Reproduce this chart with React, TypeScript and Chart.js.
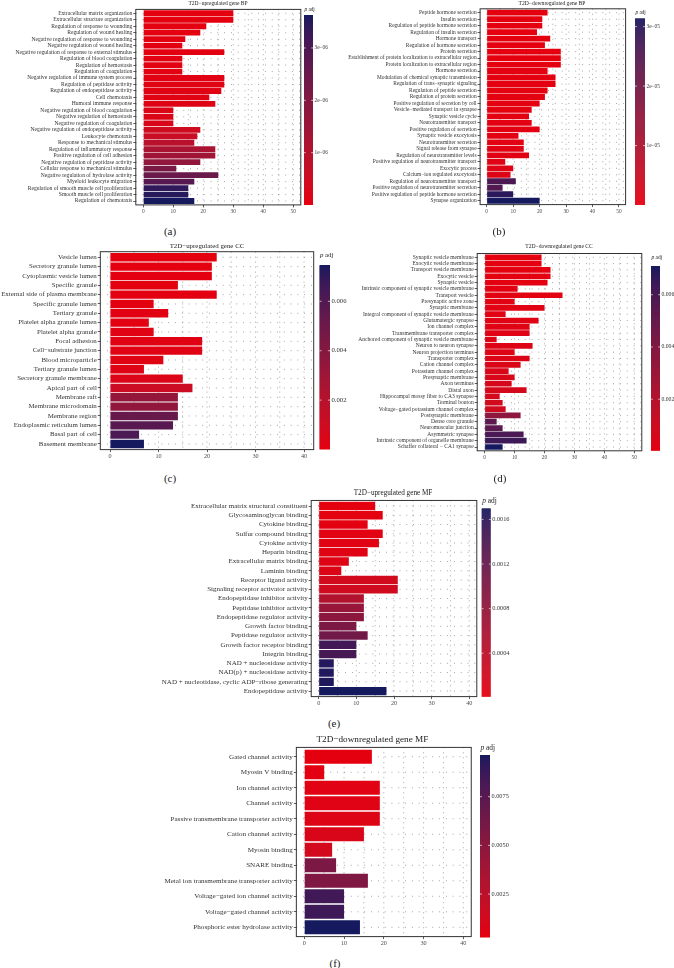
import React, { useEffect, useRef } from "react";
import { Chart, registerables } from "chart.js";
Chart.register(...registerables);

const SERIF = "'Liberation Serif', 'Times New Roman', serif";

// ---------------- (a) T2D-upregulated gene BP ----------------
const aTitle = "T2D\u2212upregulated gene BP";
const aTerms = [
  "Extracellular matrix organization",
  "Extracellular structure organization",
  "Regulation of response to wounding",
  "Regulation of wound healing",
  "Negative regulation of response to wounding",
  "Negative regulation of wound healing",
  "Negative regulation of response to external stimulus",
  "Regulation of blood coagulation",
  "Regulation of hemostasis",
  "Regulation of coagulation",
  "Negative regulation of immune system process",
  "Regulation of peptidase activity",
  "Regulation of endopeptidase activity",
  "Cell chemotaxis",
  "Humoral immune response",
  "Negative regulation of blood coagulation",
  "Negative regulation of hemostasis",
  "Negative regulation of coagulation",
  "Negative regulation of endopeptidase activity",
  "Leukocyte chemotaxis",
  "Response to mechanical stimulus",
  "Regulation of inflammatory response",
  "Positive regulation of cell adhesion",
  "Negative regulation of peptidase activity",
  "Cellular response to mechanical stimulus",
  "Negative regulation of hydrolase activity",
  "Myeloid leukocyte migration",
  "Regulation of smooth muscle cell proliferation",
  "Smooth muscle cell proliferation",
  "Regulation of chemotaxis",
];
const aCounts = [30, 30, 21, 19, 14, 13, 27, 13, 13, 13, 27, 27, 26, 22, 24, 10, 10, 10, 19, 18, 17, 24, 24, 19, 11, 25, 17, 15, 15, 17];
const aPadj = [1e-9, 2e-9, 2e-8, 3e-8, 4e-8, 5e-8, 5e-8, 6e-8, 6e-8, 7e-8, 8e-8, 9e-8, 1e-7, 1.2e-7, 1.5e-7, 2e-7, 2.2e-7, 2.5e-7, 4.5e-7, 6e-7, 9e-7, 1.2e-6, 1.4e-6, 1.7e-6, 2.2e-6, 2.5e-6, 2.8e-6, 3.4e-6, 3.5e-6, 3.63e-6];
const aXTicks = [0, 10, 20, 30, 40, 50];
const aBarTicks = [1e-6, 2e-6, 3e-6];
const aBarLabels = ["1e\u221206", "2e\u221206", "3e\u221206"];

// ---------------- (b) T2D-downregulated gene BP ----------------
const bTitle = "T2D\u2212downregulated gene BP";
const bTerms = [
  "Peptide hormone secretion",
  "Insulin secretion",
  "Regulation of peptide hormone secretion",
  "Regulation of insulin secretion",
  "Hormone transport",
  "Regulation of hormone secretion",
  "Protein secretion",
  "Establishment of protein localization to extracellular region",
  "Protein localization to extracellular region",
  "Hormone secretion",
  "Modulation of chemical synaptic transmission",
  "Regulation of trans\u2212synaptic signaling",
  "Regulation of peptide secretion",
  "Regulation of protein secretion",
  "Positive regulation of secretion by cell",
  "Vesicle\u2212mediated transport in synapse",
  "Synaptic vesicle cycle",
  "Neurotransmitter transport",
  "Positive regulation of secretion",
  "Synaptic vesicle exocytosis",
  "Neurotransmitter secretion",
  "Signal release from synapse",
  "Regulation of neurotransmitter levels",
  "Positive regulation of neurotransmitter transport",
  "Exocytic process",
  "Calcium\u2212ion regulated exocytosis",
  "Regulation of neurotransmitter transport",
  "Positive regulation of neurotransmitter secretion",
  "Positive regulation of peptide hormone secretion",
  "Synapse organization",
];
const bCounts = [23, 21, 21, 19, 24, 22, 28, 28, 28, 23, 26, 26, 23, 22, 20, 17, 16, 17, 20, 12, 14, 14, 16, 7, 10, 9, 11, 6, 10, 20];
const bPadj = [1e-8, 2e-8, 3e-8, 4e-8, 5e-8, 6e-8, 7e-8, 8e-8, 9e-8, 1e-7, 1.2e-7, 1.4e-7, 1.6e-7, 1.8e-7, 2e-7, 2.5e-7, 3e-7, 3.5e-7, 4e-7, 5e-7, 6e-7, 7e-7, 8e-7, 1e-6, 1.2e-6, 1.5e-6, 2.6e-5, 2.5e-5, 3.0e-5, 3.14e-5];
const bXTicks = [0, 10, 20, 30, 40, 50];
const bBarTicks = [1e-5, 2e-5, 3e-5];
const bBarLabels = ["1e\u221205", "2e\u221205", "3e\u221205"];

// ---------------- (c) T2D-upregulated gene CC ----------------
const cTitle = "T2D\u2212upregulated gene CC";
const cTerms = [
  "Vesicle lumen",
  "Secretory granule lumen",
  "Cytoplasmic vesicle lumen",
  "Specific granule",
  "External side of plasma membrane",
  "Specific granule lumen",
  "Tertiary granule",
  "Platelet alpha granule lumen",
  "Platelet alpha granule",
  "Focal adhesion",
  "Cell\u2212substrate junction",
  "Blood microparticle",
  "Tertiary granule lumen",
  "Secretory granule membrane",
  "Apical part of cell",
  "Membrane raft",
  "Membrane microdomain",
  "Membrane region",
  "Endoplasmic reticulum lumen",
  "Basal part of cell",
  "Basement membrane",
];
const cCounts = [22, 21, 21, 14, 22, 9, 12, 8, 9, 19, 19, 11, 7, 15, 17, 14, 14, 14, 13, 6, 7];
const cPadj = [0.00001, 0.00003, 0.00004, 0.00006, 0.00008, 0.0001, 0.00012, 0.00015, 0.00018, 0.0002, 0.00022, 0.00026, 0.0003, 0.0004, 0.0011, 0.0034, 0.0035, 0.0052, 0.0058, 0.0062, 0.00747];
const cXTicks = [0, 10, 20, 30, 40];
const cBarTicks = [0.002, 0.004, 0.006];
const cBarLabels = ["0.002", "0.004", "0.006"];

// ---------------- (d) T2D-downregulated gene CC ----------------
const dTitle = "T2D\u2212downregulated gene CC";
const dTerms = [
  "Synaptic vesicle membrane",
  "Exocytic vesicle membrane",
  "Transport vesicle membrane",
  "Exocytic vesicle",
  "Synaptic vesicle",
  "Intrinsic component of synaptic vesicle membrane",
  "Transport vesicle",
  "Presynaptic active zone",
  "Synaptic membrane",
  "Integral component of synaptic vesicle membrane",
  "Glutamatergic synapse",
  "Ion channel complex",
  "Transmembrane transporter complex",
  "Anchored component of synaptic vesicle membrane",
  "Neuron to neuron synapse",
  "Neuron projection terminus",
  "Transporter complex",
  "Cation channel complex",
  "Potassium channel complex",
  "Presynaptic membrane",
  "Axon terminus",
  "Distal axon",
  "Hippocampal mossy fiber to CA3 synapse",
  "Terminal bouton",
  "Voltage\u2212gated potassium channel complex",
  "Postsynaptic membrane",
  "Dense core granule",
  "Neuromuscular junction",
  "Asymmetric synapse",
  "Intrinsic component of organelle membrane",
  "Schaffer collateral \u2212 CA1 synapse",
];
const dCounts = [19, 19, 22, 22, 21, 11, 26, 10, 20, 7, 18, 15, 15, 4, 16, 10, 15, 12, 8, 10, 9, 14, 5, 6, 7, 12, 4, 6, 13, 14, 6];
const dPadj = [0.00003, 0.00005, 0.00006, 0.00008, 0.0001, 0.00012, 0.00014, 0.00016, 0.00018, 0.0002, 0.00022, 0.00025, 0.00028, 0.0003, 0.00033, 0.00036, 0.0004, 0.00045, 0.0005, 0.00055, 0.0006, 0.00065, 0.0007, 0.0008, 0.0009, 0.0035, 0.0053, 0.0054, 0.0059, 0.0063, 0.0071];
const dXTicks = [0, 10, 20, 30, 40, 50];
const dBarTicks = [0.002, 0.004, 0.006];
const dBarLabels = ["0.002", "0.004", "0.006"];

// ---------------- (e) T2D-upregulated gene MF ----------------
const eTitle = "T2D\u2212upregulated gene MF";
const eTerms = [
  "Extracellular matrix structural constituent",
  "Glycosaminoglycan binding",
  "Cytokine binding",
  "Sulfur compound binding",
  "Cytokine activity",
  "Heparin binding",
  "Extracellular matrix binding",
  "Laminin binding",
  "Receptor ligand activity",
  "Signaling receptor activator activity",
  "Endopeptidase inhibitor activity",
  "Peptidase inhibitor activity",
  "Endopeptidase regulator activity",
  "Growth factor binding",
  "Peptidase regulator activity",
  "Growth factor receptor binding",
  "Integrin binding",
  "NAD + nucleosidase activity",
  "NAD(p) + nucleosidase activity",
  "NAD + nucleotidase, cyclic ADP\u2212ribose generating",
  "Endopeptidase activity",
];
const eCounts = [15, 17, 13, 17, 16, 13, 8, 6, 21, 21, 12, 12, 12, 10, 13, 10, 10, 4, 4, 4, 18];
const ePadj = [0.00001, 0.00002, 0.00003, 0.00004, 0.00005, 0.00006, 0.00008, 0.0001, 0.0002, 0.00021, 0.0005, 0.00075, 0.00085, 0.001, 0.0011, 0.00148, 0.00145, 0.00165, 0.00166, 0.00167, 0.0017];
const eXTicks = [0, 10, 20, 30, 40];
const eBarTicks = [0.0004, 0.0008, 0.0012, 0.0016];
const eBarLabels = ["0.0004", "0.0008", "0.0012", "0.0016"];

// ---------------- (f) T2D-downregulated gene MF ----------------
const fTitle = "T2D\u2212downregulated gene MF";
const fTerms = [
  "Gated channel activity",
  "Myosin V binding",
  "Ion channel activity",
  "Channel activity",
  "Passive transmembrane transporter activity",
  "Cation channel activity",
  "Myosin binding",
  "SNARE binding",
  "Metal ion transmembrane transporter activity",
  "Voltage\u2212gated ion channel activity",
  "Voltage\u2212gated channel activity",
  "Phosphoric ester hydrolase activity",
];
const fCounts = [17, 5, 19, 19, 19, 15, 7, 8, 16, 10, 10, 14];
const fPadj = [0.00028, 0.0004, 0.0005, 0.0006, 0.0007, 0.0009, 0.0012, 0.0058, 0.0056, 0.0085, 0.0086, 0.00964];
const fXTicks = [0, 10, 20, 30, 40];
const fBarTicks = [0.0025, 0.005, 0.0075];
const fBarLabels = ["0.0025", "0.0050", "0.0075"];

// ---------------- colour gradient (Lab interpolation, low red -> high navy) ----------------
function toLin(c: number) {
  c /= 255;
  return c <= 0.04045 ? c / 12.92 : Math.pow((c + 0.055) / 1.055, 2.4);
}
function toGam(c: number) {
  const v = c <= 0.0031308 ? 12.92 * c : 1.055 * Math.pow(Math.max(c, 0), 1 / 2.4) - 0.055;
  return Math.round(Math.min(1, Math.max(0, v)) * 255);
}
function hexLab(hex: string) {
  const R = toLin(parseInt(hex.slice(1, 3), 16));
  const G = toLin(parseInt(hex.slice(3, 5), 16));
  const B = toLin(parseInt(hex.slice(5, 7), 16));
  const X = (0.4124 * R + 0.3576 * G + 0.1805 * B) / 0.95047;
  const Y = 0.2126 * R + 0.7152 * G + 0.0722 * B;
  const Z = (0.0193 * R + 0.1192 * G + 0.9505 * B) / 1.08883;
  const f = (t: number) => (t > 0.008856 ? Math.cbrt(t) : 7.787 * t + 16 / 116);
  const fx = f(X), fy = f(Y), fz = f(Z);
  return [116 * fy - 16, 500 * (fx - fy), 200 * (fy - fz)];
}
function labRgb(L: number, a: number, b: number) {
  const fy = (L + 16) / 116, fx = fy + a / 500, fz = fy - b / 200;
  const inv = (t: number) => (t * t * t > 0.008856 ? t * t * t : (t - 16 / 116) / 7.787);
  const X = inv(fx) * 0.95047, Y = inv(fy), Z = inv(fz) * 1.08883;
  const R = 3.2406 * X - 1.5372 * Y - 0.4986 * Z;
  const G = -0.9689 * X + 1.8758 * Y + 0.0415 * Z;
  const B = 0.0557 * X - 0.204 * Y + 1.057 * Z;
  return `rgb(${toGam(R)},${toGam(G)},${toGam(B)})`;
}
const LOW = hexLab("#E5000F");
const HIGH = hexLab("#15195E");
function colorAt(t: number) {
  const u = Math.min(1, Math.max(0, t));
  return labRgb(
    LOW[0] + (HIGH[0] - LOW[0]) * u,
    LOW[1] + (HIGH[1] - LOW[1]) * u,
    LOW[2] + (HIGH[2] - LOW[2]) * u
  );
}

// ---------------- layout (page coordinates) ----------------
type Panel = {
  key: string;
  title: string;
  terms: string[];
  counts: number[];
  padj: number[];
  xTicks: number[];
  barTicks: number[];
  barLabels: string[];
  box: { x: number; y: number; w: number; h: number };
  plot: { L: number; R: number; T: number; B: number };
  xMin: number;
  xMax: number;
  cb: { x: number; w: number; top: number; bottom: number; pY: number };
  titleX: number;
  titleY: number;
  titleSize: number;
  labelSize: number;
  tickSize: number;
  cbSize: number;
  pSize: number;
};

const PANELS: Panel[] = [
  {
    key: "a", title: aTitle, terms: aTerms, counts: aCounts, padj: aPadj, xTicks: aXTicks,
    barTicks: aBarTicks, barLabels: aBarLabels,
    box: { x: 0, y: 0, w: 335, h: 220 }, plot: { L: 135.8, R: 300.8, T: 9.4, B: 204.9 },
    xMin: -2.5, xMax: 52.5,
    cb: { x: 304, w: 9, top: 15, bottom: 205, pY: 10 },
    titleX: 218, titleY: 3.5, titleSize: 5.5, labelSize: 5.6, tickSize: 5.4, cbSize: 5.3, pSize: 5.2,
  },
  {
    key: "b", title: bTitle, terms: bTerms, counts: bCounts, padj: bPadj, xTicks: bXTicks,
    barTicks: bBarTicks, barLabels: bBarLabels,
    box: { x: 335, y: 0, w: 339, h: 220 }, plot: { L: 480.1, R: 625.6, T: 8.8, B: 204.6 },
    xMin: -2.5, xMax: 52.5,
    cb: { x: 635, w: 10, top: 18.3, bottom: 205, pY: 12.5 },
    titleX: 552, titleY: 3.5, titleSize: 5.6, labelSize: 5.4, tickSize: 5.4, cbSize: 5.3, pSize: 5.2,
  },
  {
    key: "c", title: cTitle, terms: cTerms, counts: cCounts, padj: cPadj, xTicks: cXTicks,
    barTicks: cBarTicks, barLabels: cBarLabels,
    box: { x: 0, y: 240, w: 352, h: 228 }, plot: { L: 100.3, R: 313.7, T: 251.7, B: 449.6 },
    xMin: -2, xMax: 42,
    cb: { x: 319.5, w: 10.5, top: 265, bottom: 449.3, pY: 255.5 },
    titleX: 207, titleY: 246.5, titleSize: 6.9, labelSize: 6.9, tickSize: 6.2, cbSize: 6.7, pSize: 6.8,
  },
  {
    key: "d", title: dTitle, terms: dTerms, counts: dCounts, padj: dPadj, xTicks: dXTicks,
    barTicks: dBarTicks, barLabels: dBarLabels,
    box: { x: 335, y: 240, w: 339, h: 228 }, plot: { L: 477.2, R: 641.8, T: 253.5, B: 450.8 },
    xMin: -2.5, xMax: 52.5,
    cb: { x: 651, w: 9, top: 266, bottom: 450.7, pY: 258 },
    titleX: 559, titleY: 246.5, titleSize: 5.6, labelSize: 5.55, tickSize: 5.4, cbSize: 5.7, pSize: 5.4,
  },
  {
    key: "e", title: eTitle, terms: eTerms, counts: eCounts, padj: ePadj, xTicks: eXTicks,
    barTicks: eBarTicks, barLabels: eBarLabels,
    box: { x: 150, y: 485, w: 372, h: 227 }, plot: { L: 311.2, R: 476.8, T: 500.45, B: 696.6 },
    xMin: -2, xMax: 42,
    cb: { x: 481.7, w: 9, top: 508.3, bottom: 696.7, pY: 501.5 },
    titleX: 393, titleY: 493, titleSize: 7.2, labelSize: 7.0, tickSize: 6.2, cbSize: 6.3, pSize: 7.4,
  },
  {
    key: "f", title: fTitle, terms: fTerms, counts: fCounts, padj: fPadj, xTicks: fXTicks,
    barTicks: fBarTicks, barLabels: fBarLabels,
    box: { x: 150, y: 731, w: 372, h: 222 }, plot: { L: 296.35, R: 471.25, T: 747.4, B: 936.6 },
    xMin: -2, xMax: 42,
    cb: { x: 480, w: 10, top: 755, bottom: 937.3, pY: 748 },
    titleX: 372.4, titleY: 739.3, titleSize: 9.2, labelSize: 7.1, tickSize: 6.2, cbSize: 6.3, pSize: 7.4,
  },
];

const PANEL_LABELS = [
  { text: "(a)", x: 170, y: 231 },
  { text: "(b)", x: 499, y: 231 },
  { text: "(c)", x: 170, y: 478 },
  { text: "(d)", x: 500, y: 478 },
  { text: "(e)", x: 334, y: 723 },
  { text: "(f)", x: 335, y: 963 },
];

function makeDecor(p: Panel) {
  const ox = p.box.x, oy = p.box.y;
  const lo = Math.min(...p.padj), hi = Math.max(...p.padj);
  const gridMax = p.xTicks[p.xTicks.length - 1];
  return {
    id: "decor_" + p.key,
    beforeDatasetsDraw(chart: any) {
      const { ctx, chartArea: ca } = chart;
      const xs = chart.scales.x, ys = chart.scales.y;
      ctx.save();
      ctx.strokeStyle = "rgba(60,60,60,0.8)";
      ctx.lineWidth = 0.7;
      ctx.setLineDash([0.8, 4.2]);
      for (let v = 0; v <= gridMax; v += 5) {
        const px = xs.getPixelForValue(v);
        ctx.beginPath();
        ctx.moveTo(px, ca.top);
        ctx.lineTo(px, ca.bottom);
        ctx.stroke();
      }
      ctx.setLineDash([0.8, 6]);
      for (let i = 0; i < p.terms.length; i++) {
        const py = ys.getPixelForValue(i);
        ctx.beginPath();
        ctx.moveTo(ca.left, py);
        ctx.lineTo(ca.right, py);
        ctx.stroke();
      }
      ctx.restore();
    },
    afterDraw(chart: any) {
      const { ctx, chartArea: ca } = chart;
      ctx.save();
      // panel frame
      ctx.strokeStyle = "#333333";
      ctx.lineWidth = 1;
      ctx.strokeRect(ca.left, ca.top, ca.right - ca.left, ca.bottom - ca.top);
      // colour bar
      const cx = p.cb.x - ox, top = p.cb.top - oy, bot = p.cb.bottom - oy, w = p.cb.w;
      const h = bot - top;
      const n = Math.ceil(h);
      for (let k = 0; k < n; k++) {
        ctx.fillStyle = colorAt(1 - (k + 0.5) / h);
        ctx.fillRect(cx, top + k, w, Math.min(1.5, bot - top - k));
      }
      ctx.fillStyle = "#333";
      ctx.font = `${p.cbSize}px ${SERIF}`;
      ctx.textAlign = "left";
      ctx.textBaseline = "middle";
      p.barTicks.forEach((v, i) => {
        const py = bot - ((v - lo) / (hi - lo)) * h;
        ctx.strokeStyle = "rgba(255,255,255,0.9)";
        ctx.lineWidth = 0.7;
        ctx.beginPath();
        ctx.moveTo(cx, py);
        ctx.lineTo(cx + w * 0.2, py);
        ctx.moveTo(cx + w * 0.8, py);
        ctx.lineTo(cx + w, py);
        ctx.stroke();
        ctx.fillText(p.barLabels[i], cx + w + 1.5, py);
      });
      // "p adj"
      const py0 = p.cb.pY - oy;
      ctx.font = `italic ${p.pSize}px ${SERIF}`;
      ctx.fillStyle = "#222";
      ctx.fillText("p", cx + 0.5, py0);
      const pw = ctx.measureText("p ").width;
      ctx.font = `${p.pSize}px ${SERIF}`;
      ctx.fillText("adj", cx + 0.5 + pw, py0);
      // title
      ctx.font = `${p.titleSize}px ${SERIF}`;
      ctx.textAlign = "center";
      ctx.fillStyle = "#222";
      ctx.fillText(p.title, p.titleX - ox, p.titleY - oy);
      ctx.restore();
    },
  };
}

function PanelChart({ p }: { p: Panel }) {
  const ref = useRef<HTMLCanvasElement | null>(null);
  useEffect(() => {
    if (!ref.current) return;
    const lo = Math.min(...p.padj), hi = Math.max(...p.padj);
    const ox = p.box.x, oy = p.box.y;
    const yW = p.plot.L - ox;
    const xH = oy + p.box.h - p.plot.B;
    const n = p.terms.length;
    const chart = new Chart(ref.current, {
      type: "bar",
      data: {
        datasets: [
          {
            data: p.counts.map((v, i) => ({ x: v, y: i })),
            backgroundColor: p.padj.map((q) => colorAt((q - lo) / (hi - lo))),
            borderWidth: 0,
            barPercentage: 0.9,
            categoryPercentage: 1,
          } as any,
        ],
      },
      options: {
        indexAxis: "y",
        responsive: false,
        maintainAspectRatio: false,
        animation: false,
        devicePixelRatio: 1,
        events: [],
        layout: {
          padding: { left: 0, bottom: 0, top: p.plot.T - oy, right: ox + p.box.w - p.plot.R },
        },
        plugins: { legend: { display: false }, tooltip: { enabled: false }, title: { display: false } },
        scales: {
          x: {
            type: "linear",
            min: p.xMin,
            max: p.xMax,
            afterBuildTicks: (s: any) => {
              s.ticks = p.xTicks.map((v) => ({ value: v }));
            },
            afterFit: (s: any) => {
              s.height = xH;
            },
            ticks: {
              autoSkip: false,
              maxRotation: 0,
              padding: 1,
              color: "#4d4d4d",
              font: { family: SERIF, size: p.tickSize },
            },
            grid: { drawOnChartArea: false, drawTicks: true, tickLength: 2.5, color: "#333", lineWidth: 0.8, offset: false },
            border: { display: false },
          },
          y: {
            type: "linear",
            reverse: true,
            offset: false,
            min: -0.6,
            max: n - 0.4,
            afterBuildTicks: (s: any) => {
              s.ticks = p.terms.map((_, i) => ({ value: i }));
            },
            afterFit: (s: any) => {
              s.width = yW;
            },
            ticks: {
              autoSkip: false,
              padding: 1,
              color: "#333",
              font: { family: SERIF, size: p.labelSize },
              callback: (v: any) => p.terms[v as number] ?? "",
            },
            grid: { drawOnChartArea: false, drawTicks: true, tickLength: 2.5, color: "#333", lineWidth: 0.8, offset: false },
            border: { display: false },
          },
        },
      } as any,
      plugins: [makeDecor(p)],
    });
    return () => chart.destroy();
  }, [p]);
  return (
    <canvas
      ref={ref}
      width={p.box.w}
      height={p.box.h}
      style={{ position: "absolute", left: p.box.x, top: p.box.y, width: p.box.w, height: p.box.h }}
    />
  );
}

export default function App() {
  return (
    <div style={{ position: "absolute", left: 0, top: 0, width: 674, height: 968, background: "#fff", overflow: "hidden" }}>
      {PANELS.map((p) => (
        <PanelChart key={p.key} p={p} />
      ))}
      {PANEL_LABELS.map((l) => (
        <div
          key={l.text}
          style={{
            position: "absolute",
            left: l.x - 20,
            top: l.y - 7,
            width: 40,
            height: 14,
            lineHeight: "14px",
            textAlign: "center",
            fontFamily: SERIF,
            fontSize: 11,
            color: "#222",
          }}
        >
          {l.text}
        </div>
      ))}
    </div>
  );
}
